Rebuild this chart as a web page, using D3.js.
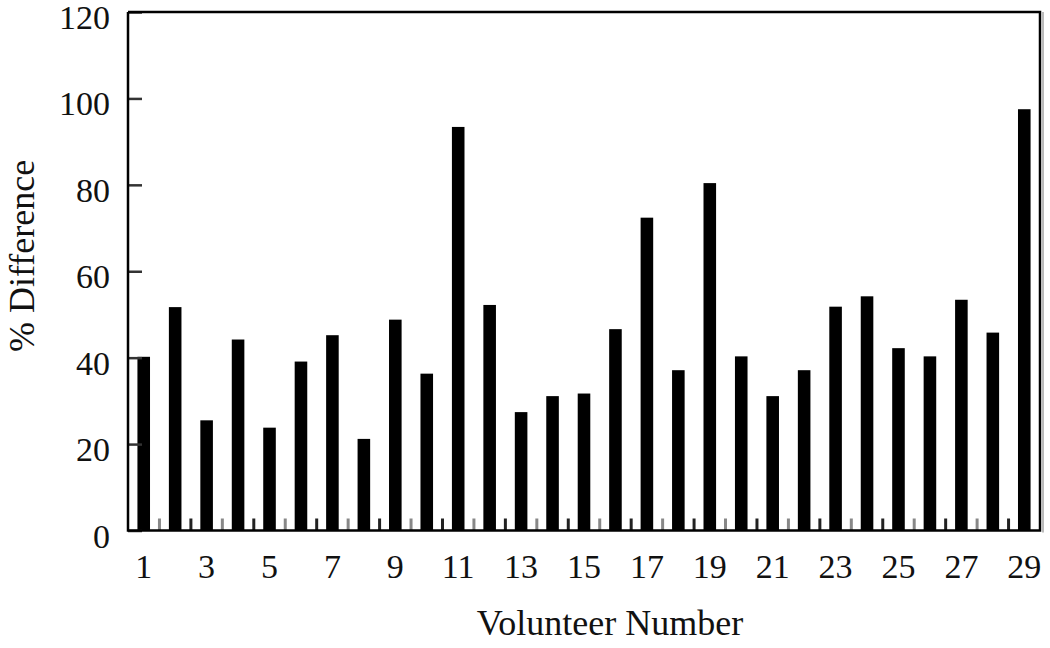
<!DOCTYPE html>
<html>
<head>
<meta charset="utf-8">
<script src="https://cdn.jsdelivr.net/npm/d3@7"></script>
<style>
  body { margin: 0; background: #fff; }
  text { font-family: "Liberation Serif", "DejaVu Serif", serif; fill: #111; }
</style>
</head>
<body>
<div class="chart"></div>
<script>
// DATA ------------------------------
const volunteers = d3.range(1, 30);
const pctDiff = [40.2, 51.7, 25.5, 44.2, 23.8, 39.1, 45.2, 21.2, 48.8, 36.3,
                 93.4, 52.2, 27.4, 31.1, 31.7, 46.6, 72.4, 37.1, 80.4, 40.3,
                 31.1, 37.1, 51.8, 54.2, 42.2, 40.3, 53.4, 45.8, 97.5];
const yTicks = [0, 20, 40, 60, 80, 100, 120];
const xLabels = volunteers.filter(v => v % 2 === 1);

// CHART INIT ------------------------------
const margin = ({top: 12, right: 10, bottom: 118, left: 128}),
  width = 1040 - margin.left,
  height = 530.5 - margin.top;

const svg = d3.select(".chart").append("svg")
  .attr("width", 1050)
  .attr("height", 648)
  .append("g")
  .attr("transform", "translate(" + margin.left + "," + margin.top + ")");

const xScale = d3.scaleBand()
  .domain(volunteers)
  .range([0, width])
  .paddingInner(0.6)
  .paddingOuter(0.3);

const yScale = d3.scaleLinear()
  .domain([0, 120])
  .range([height, 0]);

// bars
svg.selectAll(".bar")
  .data(pctDiff)
  .enter().append("rect")
  .attr("class", "bar")
  .attr("fill", "#000")
  .attr("x", (d, i) => xScale(volunteers[i]))
  .attr("y", d => yScale(d))
  .attr("width", xScale.bandwidth())
  .attr("height", d => height - yScale(d));

// small inward ticks between bars
const step = xScale.step();
svg.selectAll(".xtick")
  .data(volunteers.slice(1))
  .enter().append("line")
  .attr("class", "xtick")
  .attr("x1", d => xScale(d) - (step - xScale.bandwidth()) / 2)
  .attr("x2", d => xScale(d) - (step - xScale.bandwidth()) / 2)
  .attr("y1", height)
  .attr("y2", height - 12)
  .attr("stroke", (d, i) => i % 2 ? "#222" : "#888")
  .attr("stroke-width", 3);

// y axis
const yAxis = svg.append("g")
  .attr("class", "axis y-axis")
  .call(d3.axisRight(yScale).tickValues(yTicks).tickSize(14).tickFormat(""));
yAxis.select(".domain").remove();
yAxis.selectAll("line").attr("stroke", "#333").attr("stroke-width", 2.5);

svg.selectAll(".ylab")
  .data(yTicks)
  .enter().append("text")
  .attr("class", "ylab")
  .attr("x", -18)
  .attr("y", d => yScale(d) + 17)
  .attr("text-anchor", "end")
  .attr("font-size", 34)
  .text(d => d);

// frame
svg.append("path")
  .attr("d", "M0,0V" + height + "H" + width + "V0H0")
  .attr("fill", "none")
  .attr("stroke", "#000")
  .attr("stroke-width", 2.5);
svg.append("line")
  .attr("x1", width + 3).attr("x2", width + 3)
  .attr("y1", 0).attr("y2", height + 2)
  .attr("stroke", "#bbb").attr("stroke-width", 2);

// x labels
svg.selectAll(".xlab")
  .data(xLabels)
  .enter().append("text")
  .attr("class", "xlab")
  .attr("x", d => xScale(d) + xScale.bandwidth() / 2)
  .attr("y", height + 47)
  .attr("text-anchor", "middle")
  .attr("font-size", 34)
  .text(d => d);

// axis titles
svg.append("text")
  .attr("x", 610 - margin.left)
  .attr("y", 635 - margin.top)
  .attr("text-anchor", "middle")
  .attr("font-size", 36)
  .text("Volunteer Number");

svg.append("text")
  .attr("transform", "translate(" + (34 - margin.left) + "," + (256 - margin.top) + ") rotate(-90)")
  .attr("text-anchor", "middle")
  .attr("font-size", 36)
  .text("% Difference");
</script>
</body>
</html>
